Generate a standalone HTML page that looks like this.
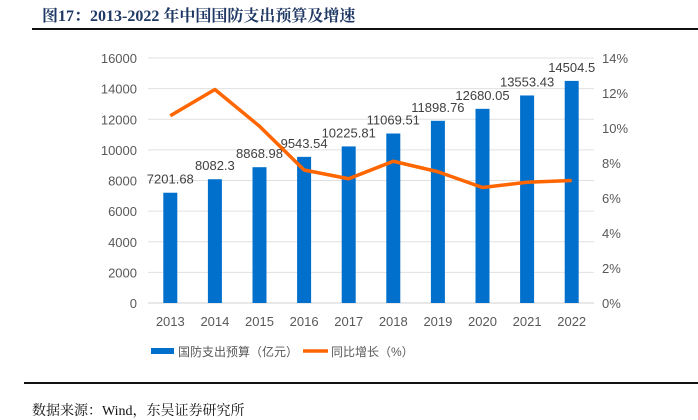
<!DOCTYPE html>
<html><head><meta charset="utf-8">
<style>
body{margin:0;background:#fff;width:698px;height:416px;overflow:hidden;position:relative;font-family:"Liberation Sans","Noto Sans CJK SC",sans-serif}
#title{position:absolute;left:42px;top:3px;font-family:"Liberation Serif","Noto Serif CJK SC",serif;font-weight:bold;font-size:16px;color:#1f3864}
#tline{position:absolute;left:32px;top:28px;width:666px;height:2px;background:#111}
#bline{position:absolute;left:24px;top:382px;width:674px;height:2px;background:#111}
#src{position:absolute;left:32px;top:400px;font-family:"Liberation Serif","Noto Serif CJK SC",serif;font-size:14px;color:#111}
svg{position:absolute;left:0;top:0}
</style></head><body>
<div id="title">图17：2013-2022 年中国国防支出预算及增速</div>
<div id="tline"></div>
<svg id="chart" width="698" height="416"></svg>
<div id="bline"></div>
<div id="src">数据来源：Wind，东吴证券研究所</div>
<script>
const years=["2013","2014","2015","2016","2017","2018","2019","2020","2021","2022"];
const budget=[7201.68,8082.3,8868.98,9543.54,10225.81,11069.51,11898.76,12680.05,13553.43,14504.5];
const budgetLabels=["7201.68","8082.3","8868.98","9543.54","10225.81","11069.51","11898.76","12680.05","13553.43","14504.5"];
const growth=[10.7,12.2,10.1,7.6,7.1,8.1,7.5,6.6,6.9,7.0];
const leftTicks=[0,2000,4000,6000,8000,10000,12000,14000,16000];
const rightTicks=[0,2,4,6,8,10,12,14];
const NS="http://www.w3.org/2000/svg";
const svg=document.getElementById('chart');
const L=148,R=594,T=58,B=303;
const bw=(R-L)/years.length;
const xc=i=>L+bw*(i+0.5);
const yl=v=>B-(v/16000)*(B-T);
const yr=v=>B-(v/14)*(B-T);
function mk(tag,attrs){const e=document.createElementNS(NS,tag);for(const k in attrs)e.setAttribute(k,attrs[k]);svg.appendChild(e);return e;}
leftTicks.forEach(t=>{
 const g=mk('line',{x1:L,x2:R,y1:yl(t),y2:yl(t),stroke:t===0?'#d0d0d0':'#e0e0e0','stroke-width':1});
 
 
 const tx=mk('text',{x:137,y:yl(t)+5,'text-anchor':'end','font-size':13,fill:'#595959'});
 tx.textContent=t;
 
 
});
rightTicks.forEach(t=>{
 const tx=mk('text',{x:602,y:yr(t)+5,'font-size':13,fill:'#595959'});
 tx.textContent=t+'%';
 
 
});
years.forEach((y,i)=>{
 const r=mk('rect',{x:xc(i)-7,y:yl(budget[i]),width:14,height:B-yl(budget[i]),fill:'#0070cc'});
 
 
 const lb=mk('text',{x:xc(i),y:yl(budget[i])-9,'text-anchor':'middle','font-size':13,fill:'#404040'});
 lb.textContent=budgetLabels[i];
 
 
 const xt=mk('text',{x:xc(i),y:326,'text-anchor':'middle','font-size':13,fill:'#595959'});
 xt.textContent=y;
 
 
});
const pl=mk('polyline',{points:growth.map((v,i)=>xc(i)+','+yr(v)).join(' '),fill:'none',stroke:'#ff6600','stroke-width':3.5,'stroke-linejoin':'round'});


const lg1=mk('rect',{x:151,y:348,width:23,height:6,fill:'#0070cc'});


const lt1=mk('text',{x:178,y:356,'font-size':12,fill:'#595959'});
lt1.textContent='国防支出预算（亿元）';


const lg2=mk('line',{x1:303,x2:328,y1:351,y2:351,stroke:'#ff6600','stroke-width':3.5});


const lt2=mk('text',{x:331,y:356,'font-size':12,fill:'#595959'});
lt2.textContent='同比增长（%）';


</script>
</body></html>
